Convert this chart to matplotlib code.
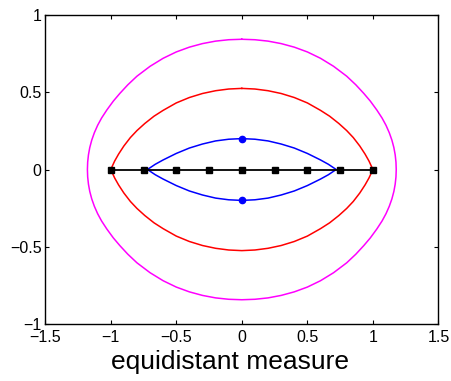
import numpy as np
import matplotlib

matplotlib.use("Agg")
import matplotlib.pyplot as plt

plt.rcParams["font.family"] = ["Liberation Sans", "DejaVu Sans"]

# upper right quarter of each curve (curves are symmetric)
magenta_x = [0.0, 0.1, 0.2, 0.3, 0.4, 0.5, 0.6, 0.7, 0.8, 0.87, 0.93, 0.98,
             1.03, 1.07, 1.1, 1.125, 1.145, 1.16, 1.17, 1.176, 1.178]
magenta_y = [0.843, 0.84, 0.831, 0.815, 0.792, 0.761, 0.72, 0.668, 0.604, 0.548, 0.493, 0.443,
             0.385, 0.333, 0.286, 0.238, 0.19, 0.142, 0.095, 0.048, 0.0]

red_x = [0.0, 0.1, 0.2, 0.3, 0.4, 0.5, 0.6, 0.67, 0.74, 0.8, 0.85, 0.9, 0.94, 0.97, 1.0]
red_y = [0.525, 0.521, 0.51, 0.492, 0.466, 0.431, 0.383, 0.345, 0.298, 0.252, 0.207, 0.152, 0.1, 0.055, 0.0]

blue_x = [0.0, 0.1, 0.2, 0.3, 0.4, 0.5, 0.6, 0.66, 0.72]
blue_y = [0.2, 0.196, 0.185, 0.165, 0.139, 0.104, 0.062, 0.034, 0.0]

# equidistant nodes on [-1, 1]
nodes_x = [-1.0, -0.75, -0.5, -0.25, 0.0, 0.25, 0.5, 0.75, 1.0]
nodes_y = [0, 0, 0, 0, 0, 0, 0, 0, 0]

dots_x = [0.0, 0.0]
dots_y = [0.2, -0.2]

x_ticks = [-1.5, -1, -0.5, 0, 0.5, 1, 1.5]
y_ticks = [-1, -0.5, 0, 0.5, 1]
x_tick_labels = ["\u22121.5", "\u22121", "\u22120.5", "0", "0.5", "1", "1.5"]
y_tick_labels = ["\u22121", "\u22120.5", "0", "0.5", "1"]


def closed_curve(qx, qy):
    # mirror the quarter to a full closed curve
    qx = np.asarray(qx)
    qy = np.asarray(qy)
    x = np.concatenate([qx, qx[::-1][1:], -qx[1:], -qx[::-1][1:]])
    y = np.concatenate([qy, -qy[::-1][1:], -qy[1:], qy[::-1][1:]])
    return x, y


fig = plt.figure(figsize=(4.52, 3.81), dpi=100)
ax = fig.add_axes([0.1, 0.1496, 0.87, 0.811])

for qx, qy, color in [
    (magenta_x, magenta_y, "#ff00ff"),
    (red_x, red_y, "#ff0000"),
    (blue_x, blue_y, "#0000ff"),
]:
    cx, cy = closed_curve(qx, qy)
    ax.plot(cx, cy, color=color, lw=1.1)

ax.plot(dots_x, dots_y, "o", color="#0000ff", ms=4.5)
ax.plot(nodes_x, nodes_y, "s-", color="black", lw=1.3, ms=4)

ax.set_xlim(-1.5, 1.5)
ax.set_ylim(-1, 1)
ax.set_xticks(x_ticks)
ax.set_xticklabels(x_tick_labels)
ax.set_yticks(y_ticks)
ax.set_yticklabels(y_tick_labels)
ax.tick_params(direction="in", length=3, width=0.8, labelsize=11.5,
               top=True, right=True)
ax.tick_params(axis="x", pad=4.5)
ax.tick_params(axis="y", pad=2.5)
for spine in ax.spines.values():
    spine.set_linewidth(1.0)

ax.set_xlabel("equidistant measure", fontsize=19)
ax.xaxis.set_label_coords(0.471, -0.083)

fig.savefig("out.png", dpi=100)
